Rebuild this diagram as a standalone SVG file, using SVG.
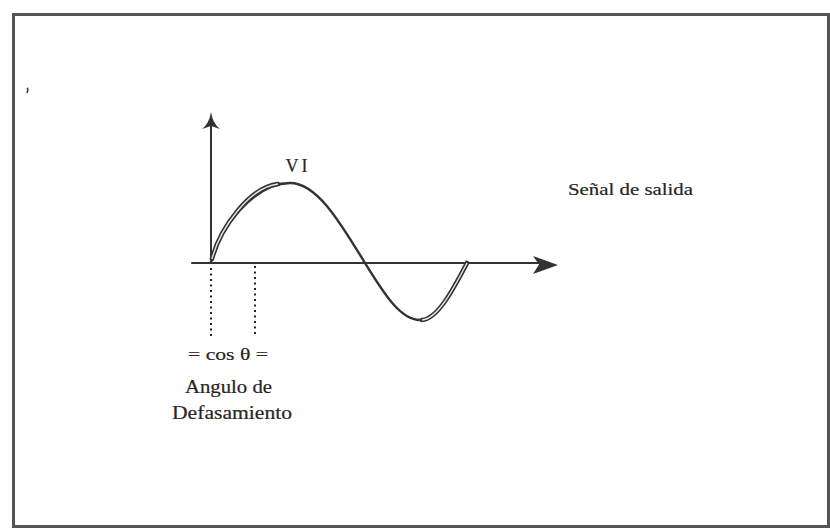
<svg xmlns="http://www.w3.org/2000/svg" width="830" height="529" viewBox="0 0 830 529">
<style>
.ink{stroke:#333;fill:none;stroke-linecap:round;stroke-linejoin:round}
.txt{font-family:"Liberation Serif","DejaVu Serif",serif;fill:#262626;stroke:#262626;stroke-width:0.2}
.dot{stroke:#222;stroke-width:2;stroke-dasharray:2 3.5;fill:none}
</style>
<rect width="830" height="529" fill="#ffffff"/>
<g id="frame">
<rect x="13.5" y="14.5" width="815" height="512" fill="none" stroke="#555" stroke-width="3"/>
<path d="M27,88 q1.5,1 0,5" stroke="#333" stroke-width="1.6" fill="none"/>
</g>
<g id="axes">
<line class="ink" x1="211" y1="263" x2="211" y2="124" stroke-width="2"/>
<path d="M211,112 Q209,124 202,129 L211,126 L220,129 Q213,124 211,112 Z" fill="#333"/>
<line class="ink" x1="192" y1="263" x2="540" y2="263" stroke-width="2.2"/>
<path d="M558,265 L533,256 L539,264.5 L533,274 Z" fill="#333"/>
<line class="dot" x1="211" y1="268" x2="211" y2="336"/>
<line class="dot" x1="255" y1="266" x2="255" y2="336"/>
</g>
<g id="curve">
<path class="ink" stroke-width="2.4" d="M211,262 C219,228 255,183 290,183 C317,183 340,222 365,263 C383,292 400,320 420,320 C437,320 452,292 468,263"/>
<path class="ink" stroke-width="4.6" d="M212,259 C220,228 250,187 278,184"/>
<path stroke="#e6e6e6" stroke-width="1.4" fill="none" d="M212,259 C220,228 250,187 278,184"/>
<path class="ink" stroke-width="4.6" d="M422,320 C437,319 452,292 467,263"/>
<path stroke="#e6e6e6" stroke-width="1.4" fill="none" d="M422,320 C437,319 452,292 467,263"/>
</g>
<g id="labels">
<text class="txt" x="298" y="172" font-size="18" text-anchor="middle" letter-spacing="3">VI</text>
<text class="txt" x="568" y="195" font-size="17" textLength="125" lengthAdjust="spacingAndGlyphs">Señal de salida</text>
<text class="txt" x="188" y="360" font-size="17" textLength="80" lengthAdjust="spacingAndGlyphs">= cos θ =</text>
<text class="txt" x="185" y="393" font-size="18" textLength="87" lengthAdjust="spacingAndGlyphs">Angulo de</text>
<text class="txt" x="172" y="419" font-size="18" textLength="120" lengthAdjust="spacingAndGlyphs">Defasamiento</text>
</g>
</svg>
